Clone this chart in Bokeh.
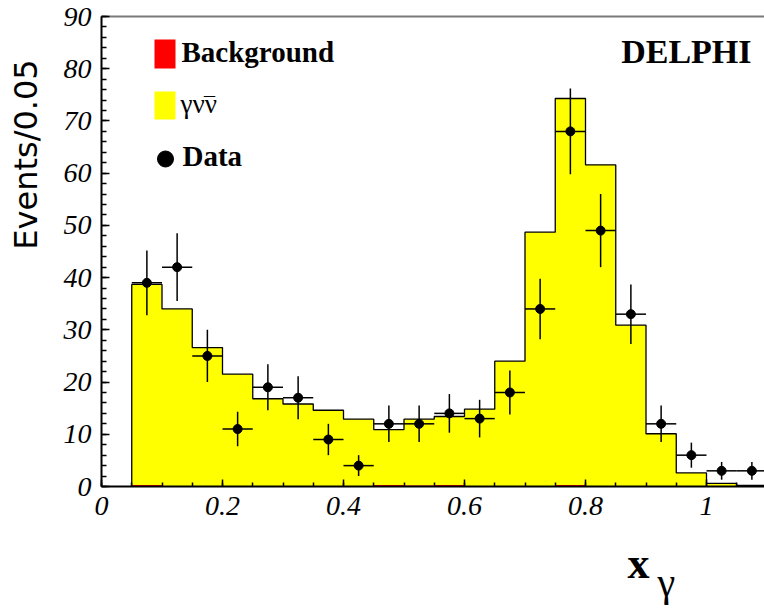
import numpy as np
from bokeh.plotting import figure
from bokeh.models import (FixedTicker, CustomJSTickFormatter, LinearAxis,
                          Label, BoxAnnotation, ColumnDataSource)
from bokeh.embed import file_html
from bokeh.resources import INLINE

# ---------------- data ----------------
bin_lo = [0.05, 0.10, 0.15, 0.20, 0.25, 0.30, 0.35, 0.40, 0.45, 0.50, 0.55,
          0.60, 0.65, 0.70, 0.75, 0.80, 0.85, 0.90, 0.95, 1.00, 1.05]
bin_hi = [0.10, 0.15, 0.20, 0.25, 0.30, 0.35, 0.40, 0.45, 0.50, 0.55, 0.60,
          0.65, 0.70, 0.75, 0.80, 0.85, 0.90, 0.95, 1.00, 1.05, 1.10]
background = [0.3, 0.0, 0.0, 0.0, 0.0, 0.0, 0.0, 0.0, 0.3, 0.2, 0.3,
              0.0, 0.0, 0.0, 0.3, 0.0, 0.0, 0.0, 0.0, 0.0, 0.2]
gamma_nunu = [38.4, 34.0, 26.6, 21.5, 16.8, 15.8, 14.6, 12.9, 10.6, 12.7, 13.1,
              14.8, 24.0, 48.7, 74.0, 61.6, 30.9, 10.1, 2.6, 0.6, 0.0]
data_x = [0.075, 0.125, 0.175, 0.225, 0.275, 0.325, 0.375, 0.425, 0.475, 0.525, 0.575,
          0.625, 0.675, 0.725, 0.775, 0.825, 0.875, 0.925, 0.975, 1.025, 1.075]
data_y = [39, 42, 25, 11, 19, 17, 9, 4, 12, 12, 14,
          13, 18, 34, 68, 49, 33, 12, 6, 3, 3]
data_err = [6.2, 6.5, 5.0, 3.3, 4.4, 4.1, 3.0, 2.0, 3.5, 3.5, 3.7,
            3.6, 4.2, 5.8, 8.2, 7.0, 5.7, 3.5, 2.4, 1.7, 1.7]
data_xerr = 0.025
x_major_ticks = [0, 0.2, 0.4, 0.6, 0.8, 1.0]
y_major_ticks = [0, 10, 20, 30, 40, 50, 60, 70, 80, 90]

SERIF = "Liberation Serif"

# pixel geometry of the frame (page pixels)
W, H = 764, 612
X0, PXX = 101.0, 605.0          # x=0 at 101 px, 605 px per unit
Y0, PXY = 486.0, 470.0 / 90.0   # y=0 at 486 px


def dxp(px):
    return (px - X0) / PXX


def dyp(py):
    return (Y0 - py) / PXY


# ---------------- figure (frame = whole canvas, axes at fixed locations) ----
p = figure(width=W, height=H, x_range=(dxp(0), dxp(W)), y_range=(dyp(H), dyp(0)),
           output_backend="svg", toolbar_location=None,
           min_border_left=0, min_border_right=0, min_border_top=0,
           min_border_bottom=0)
p.outline_line_color = None
p.xgrid.visible = False
p.ygrid.visible = False
p.background_fill_color = "white"
p.border_fill_color = "white"

# stacked histogram (single areas, no seams)
bg = np.array(background)
sig = np.array(gamma_nunu)
tot = bg + sig
edges = bin_lo + [bin_hi[-1]]
bg_ext = list(bg) + [bg[-1]]
tot_ext = list(tot) + [tot[-1]]
zero_ext = [0.0] * len(edges)
p.varea_step(x=edges, y1=bg_ext, y2=tot_ext, step_mode="after", fill_color="#ffff00")
p.varea_step(x=edges, y1=zero_ext, y2=bg_ext, step_mode="after", fill_color="#ff0000")

# outline of total histogram
ox = [bin_lo[0]]
oy = [0.0]
for lo, hi, t in zip(bin_lo, bin_hi, tot):
    ox += [lo, hi]
    oy += [t, t]
ox.append(bin_hi[-1])
oy.append(0.0)
p.line(ox, oy, line_color="black", line_width=1.3)

# data with error bars
dx = np.array(data_x)
dy = np.array(data_y, dtype=float)
de = np.array(data_err)
dsrc = ColumnDataSource(dict(x=dx, y=dy, ylo=dy - de, yhi=dy + de,
                             xlo=dx - data_xerr, xhi=dx + data_xerr))
p.segment(x0="x", y0="ylo", x1="x", y1="yhi", source=dsrc,
          line_color="black", line_width=1.5)
p.segment(x0="xlo", y0="y", x1="xhi", y1="y", source=dsrc,
          line_color="black", line_width=1.5)
p.scatter(x="x", y="y", source=dsrc, size=9, fill_color="black",
          line_color="black")

# ---------------- axes ----------------
xa = p.xaxis[0]
xa.fixed_location = 0
xa.bounds = (0, 1.2)
xa.ticker = FixedTicker(ticks=x_major_ticks,
                        minor_ticks=list(np.round(np.arange(0, 1.2001, 0.05), 3)))
xa.formatter = CustomJSTickFormatter(code="return String(Math.round(tick*10)/10);")
ya = p.yaxis[0]
ya.fixed_location = 0
ya.bounds = (0, 90)
ya.ticker = FixedTicker(ticks=y_major_ticks, minor_ticks=list(range(0, 91, 2)))
for ax in (xa, ya):
    ax.axis_line_color = "black"
    ax.axis_line_width = 2
    ax.major_tick_out = 0
    ax.minor_tick_out = 0
    ax.major_tick_line_color = "black"
    ax.minor_tick_line_color = "black"
    ax.major_tick_line_width = 1.5
    ax.minor_tick_line_width = 1.5
    ax.major_label_text_font = SERIF
    ax.major_label_text_font_style = "italic"
    ax.major_label_text_font_size = "28px"
    ax.major_label_text_color = "black"
    ax.major_label_standoff = 10
xa.major_tick_in = 7
xa.minor_tick_in = 4
ya.major_tick_in = 8
ya.minor_tick_in = 5

# top frame line (grey)
top = LinearAxis(fixed_location=90, bounds=(0, 1.2), ticker=FixedTicker(ticks=[]),
                 axis_line_color="#7a7a7a", axis_line_width=2,
                 major_tick_line_color=None, minor_tick_line_color=None,
                 major_label_text_font_size="0px")
p.add_layout(top, "above")

# ---------------- legend ----------------
p.add_layout(BoxAnnotation(left=dxp(154), right=dxp(175), top=dyp(39), bottom=dyp(68),
                           fill_color="#ff0000", fill_alpha=1, line_color=None))
p.add_layout(BoxAnnotation(left=dxp(154), right=dxp(175), top=dyp(91), bottom=dyp(119),
                           fill_color="#ffff00", fill_alpha=1, line_color=None))
p.scatter([dxp(165)], [dyp(158.5)], size=16, fill_color="black", line_color="black")

p.add_layout(Label(x=dxp(181), y=dyp(51), text="Background", text_font=SERIF,
                   text_font_style="bold", text_font_size="29px",
                   text_baseline="alphabetic", text_color="black"))
p.add_layout(Label(x=dxp(180), y=dyp(103), text="\u03b3\u03bd\u03bd", text_font=SERIF,
                   text_font_size="27px", text_baseline="alphabetic",
                   text_color="black"))
p.add_layout(Label(x=dxp(209), y=dyp(104), text="\u00af", text_font=SERIF,
                   text_font_size="22px", text_align="center",
                   text_baseline="alphabetic", text_color="black"))
p.add_layout(Label(x=dxp(182), y=dyp(155), text="Data", text_font=SERIF,
                   text_font_style="bold", text_font_size="29px",
                   text_baseline="alphabetic", text_color="black"))
p.add_layout(Label(x=dxp(751), y=dyp(51), text="DELPHI", text_font=SERIF,
                   text_font_style="bold", text_font_size="34px",
                   text_align="right", text_baseline="alphabetic",
                   text_color="black"))

# ---------------- axis titles ----------------
p.add_layout(Label(x=dxp(25), y=dyp(154), text="Events/0.05", text_font="DejaVu Sans",
                   text_font_size="32px", angle=np.pi / 2, text_align="center",
                   text_baseline="middle", text_color="black"))
p.add_layout(Label(x=dxp(627), y=dyp(563), text="x", text_font=SERIF,
                   text_font_style="bold", text_font_size="44px",
                   text_baseline="alphabetic", text_color="black"))
p.add_layout(Label(x=dxp(657), y=dyp(582), text="\u03b3", text_font=SERIF,
                   text_font_size="40px", text_baseline="alphabetic",
                   text_color="black"))

open("out.html", "w").write(file_html(p, INLINE))
